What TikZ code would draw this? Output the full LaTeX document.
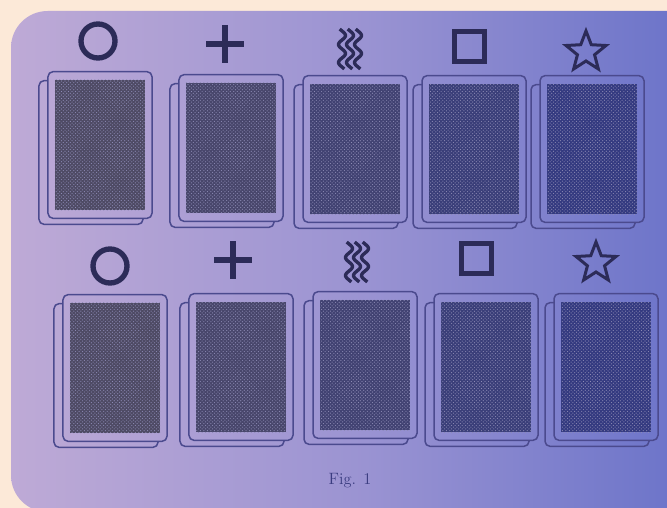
\documentclass[tikz,border=0pt]{standalone}
\usepackage{tikz}
\usetikzlibrary{calc,patterns}

\definecolor{peach}{HTML}{FCE9D8}
\definecolor{bgleft}{HTML}{BEAAD6}
\definecolor{bgmid}{HTML}{9A93D2}
\definecolor{bgright}{HTML}{6670C8}
\definecolor{edgecol}{HTML}{4B4A8E}
\definecolor{symink}{HTML}{2C2B58}
\definecolor{greyink}{HTML}{4E4A64}
\definecolor{blueink}{HTML}{343A80}
\definecolor{speck}{HTML}{8C8AB4}
\definecolor{capink}{HTML}{3A3C80}

\tikzset{
  zcirc/.pic={\draw[line width=0.16cm] (0,0) circle [radius=17];},
  zplus/.pic={\draw[line width=0.18cm] (-19,0) -- (19,0) (0,-19) -- (0,19);},
  zsquare/.pic={\draw[line width=0.15cm] (-15,-15) rectangle (15,15);},
  zstar/.pic={\draw[line width=0.09cm] (-90:21) -- (-54:9) -- (-18:21) -- (18:9) -- (54:21)
      -- (90:9) -- (126:21) -- (162:9) -- (198:21) -- (234:9) -- cycle;},
  zwaves/.pic={\foreach \o in {-8,0,8}
      \draw[line width=0.1cm] plot[domain=-20:20, samples=41, smooth] ({\o+3.5*sin(20*\x)}, {\x});}
}

\begin{document}
\begin{tikzpicture}[x=0.03cm, y=-0.03cm,
    cardfront/.style={draw=edgecol, line width=0.045cm, rounded corners=0.15cm,
      minimum width=3.12cm, minimum height=4.4cm, inner sep=0pt, outer sep=0pt},
    cardback/.style={draw=edgecol, line width=0.045cm, rounded corners=0.15cm},
    cardface/.style={minimum width=2.7cm, minimum height=3.9cm, inner sep=0pt,
      postaction={pattern=crosshatch dots, pattern color=speck}},
    sym/.style={color=symink}]
  \useasboundingbox (0,0) rectangle (667,508);
  \fill[peach] (0,0) rectangle (667,508);
  \shade[left color=bgleft, right color=bgright, middle color=bgmid, rounded corners=1.1cm]
    (11,11) rectangle (720,512);

  % top row of cards
  \foreach \i/\x/\y/\p in {1/100/145/0, 2/231/148/25, 3/355/149/50, 4/474/149/75, 5/592/149/100}{
    \node[cardfront] (a\i) at (\x,\y) {};
    \node[cardface, fill=blueink!\p!greyink] (fa\i) at (a\i) {};
    \draw[cardback] ($(a\i.north west)+(0,9)$) -| ($(a\i.south west)+(-9,6)$) -| ($(a\i.south east)+(-9,0)$);
  }
  % bottom row of cards
  \foreach \i/\x/\y/\p in {1/115/368/0, 2/241/367/25, 3/365/365/50, 4/486/367/75, 5/606/367/100}{
    \node[cardfront] (b\i) at (\x,\y) {};
    \node[cardface, fill=blueink!\p!greyink] (fb\i) at (b\i) {};
    \draw[cardback] ($(b\i.north west)+(0,9)$) -| ($(b\i.south west)+(-9,6)$) -| ($(b\i.south east)+(-9,0)$);
  }

  % symbols
  \pic[sym] at (98,41)   {zcirc};
  \pic[sym] at (225,44)  {zplus};
  \pic[sym] at (350,49)  {zwaves};
  \pic[sym] at (469,47)  {zsquare};
  \pic[sym] at (586,52)  {zstar};
  \pic[sym] at (110,266) {zcirc};
  \pic[sym] at (233,260) {zplus};
  \pic[sym] at (357,262) {zwaves};
  \pic[sym] at (476,258) {zsquare};
  \pic[sym] at (596,263) {zstar};

  \node[text=capink, font=\fontsize{14}{16}\selectfont] (cap) at (350,481) {Fig. 1};
\end{tikzpicture}
\end{document}
